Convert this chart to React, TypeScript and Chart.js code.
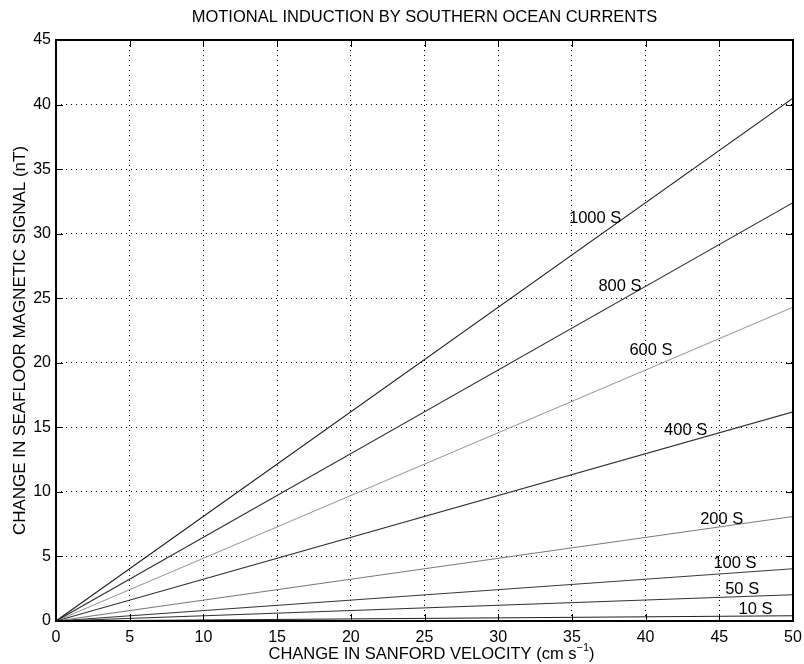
import React, { useEffect, useRef } from "react";
import { Chart, registerables } from "chart.js";

Chart.register(...registerables);

const titleText = "MOTIONAL INDUCTION BY SOUTHERN OCEAN CURRENTS";
const xTitleMain = "CHANGE IN SANFORD VELOCITY (cm s";
const xTitleSup = "\u22121";
const xTitleEnd = ")";
const yTitle = "CHANGE IN SEAFLOOR MAGNETIC SIGNAL (nT)";

const velocity = [0, 50];
const seriesNames = ["1000 S", "800 S", "600 S", "400 S", "200 S", "100 S", "50 S", "10 S"];
const signalAtStart = [0, 0, 0, 0, 0, 0, 0, 0];
const signalAtEnd = [40.5, 32.4, 24.3, 16.2, 8.1, 4.05, 2.03, 0.41];
const seriesColors = ["#1a1a1a", "#333333", "#9a9a9a", "#333333", "#7a7a7a", "#3a3a3a", "#333333", "#222222"];
const labelX = [34.8, 36.8, 38.9, 41.25, 43.7, 44.6, 45.4, 46.3];
const labelY = [31.2, 25.9, 20.95, 14.75, 7.86, 4.49, 2.44, 0.93];

const FONT = "'Liberation Sans', Arial, Helvetica, sans-serif";

const overlayPlugin = {
  id: "overlay",
  afterDatasetsDraw(chart: any) {
    const ctx = chart.ctx;
    const { left, right, top, bottom } = chart.chartArea;
    const xs = chart.scales.x;
    const ys = chart.scales.y;
    ctx.save();
    // series labels
    ctx.fillStyle = "#000";
    ctx.font = `16.5px ${FONT}`;
    ctx.textAlign = "left";
    ctx.textBaseline = "middle";
    seriesNames.forEach((n, i) => {
      ctx.fillText(n, xs.getPixelForValue(labelX[i]), ys.getPixelForValue(labelY[i]));
    });
    // inward ticks
    ctx.strokeStyle = "#000";
    ctx.lineWidth = 1;
    const tl = 7;
    ctx.beginPath();
    xs.ticks.forEach((t: any) => {
      const px = Math.round(xs.getPixelForValue(t.value)) + 0.5;
      ctx.moveTo(px, bottom);
      ctx.lineTo(px, bottom - tl);
      ctx.moveTo(px, top);
      ctx.lineTo(px, top + tl);
    });
    ys.ticks.forEach((t: any) => {
      const py = Math.round(ys.getPixelForValue(t.value)) + 0.5;
      ctx.moveTo(left, py);
      ctx.lineTo(left + tl, py);
      ctx.moveTo(right, py);
      ctx.lineTo(right - tl, py);
    });
    ctx.stroke();
    // box
    ctx.lineWidth = 2;
    ctx.strokeRect(left, top, right - left, bottom - top);
    // title
    ctx.font = `16.5px ${FONT}`;
    ctx.textAlign = "center";
    ctx.textBaseline = "middle";
    ctx.fillText(titleText, (left + right) / 2, 17);
    // x axis title with superscript
    const mainFont = `16.5px ${FONT}`;
    const supFont = `11px ${FONT}`;
    ctx.font = mainFont;
    const w1 = ctx.measureText(xTitleMain).width;
    const w3 = ctx.measureText(xTitleEnd).width;
    ctx.font = supFont;
    const w2 = ctx.measureText(xTitleSup).width;
    const total = w1 + w2 + w3;
    let x0 = (left + right) / 2 + 7 - total / 2;
    const yBase = bottom + 33;
    ctx.textAlign = "left";
    ctx.textBaseline = "middle";
    ctx.font = mainFont;
    ctx.fillText(xTitleMain, x0, yBase);
    x0 += w1;
    ctx.font = supFont;
    ctx.fillText(xTitleSup, x0, yBase - 6);
    x0 += w2;
    ctx.font = mainFont;
    ctx.fillText(xTitleEnd, x0, yBase);
    // y axis title
    ctx.translate(20, (top + bottom) / 2 + 10);
    ctx.rotate(-Math.PI / 2);
    ctx.font = `17px ${FONT}`;
    ctx.textAlign = "center";
    ctx.textBaseline = "middle";
    ctx.fillText(yTitle, 0, 0);
    ctx.restore();
  },
};

export default function App() {
  const ref = useRef<HTMLCanvasElement>(null);
  useEffect(() => {
    if (!ref.current) return;
    const datasets = seriesNames.map((n, i) => ({
      label: n,
      data: [
        { x: velocity[0], y: signalAtStart[i] },
        { x: velocity[1], y: signalAtEnd[i] },
      ],
      borderColor: seriesColors[i],
      borderWidth: 1.1,
      pointRadius: 0,
      fill: false,
      tension: 0,
    }));
    const chart = new Chart(ref.current, {
      type: "line",
      data: { datasets },
      plugins: [overlayPlugin],
      options: {
        responsive: false,
        animation: false,
        layout: { padding: { top: 40, right: 11, left: 0, bottom: 0 } },
        plugins: { legend: { display: false }, tooltip: { enabled: false }, title: { display: false } },
        scales: {
          x: {
            type: "linear",
            min: 0,
            max: 50,
            ticks: { stepSize: 5, color: "#000", font: { family: FONT, size: 16 }, padding: 7, maxRotation: 0, minRotation: 0 },
            grid: { color: "#000", lineWidth: 1, drawTicks: false },
            border: { display: false, dash: [1, 4] },
            afterFit(scale: any) {
              scale.height = 43;
              scale.paddingLeft = 0;
              scale.paddingRight = 0;
            },
          },
          y: {
            type: "linear",
            min: 0,
            max: 45,
            ticks: { stepSize: 5, color: "#000", font: { family: FONT, size: 16 }, padding: 5 },
            grid: { color: "#000", lineWidth: 1, drawTicks: false },
            border: { display: false, dash: [1, 4] },
            afterFit(scale: any) {
              scale.width = 56;
              scale.paddingTop = 0;
              scale.paddingBottom = 0;
            },
          },
        },
      },
    });
    return () => chart.destroy();
  }, []);
  return (
    <div style={{ position: "fixed", left: 0, top: 0, width: 804, height: 664, background: "#fff" }}>
      <canvas ref={ref} width={804} height={664} />
    </div>
  );
}
